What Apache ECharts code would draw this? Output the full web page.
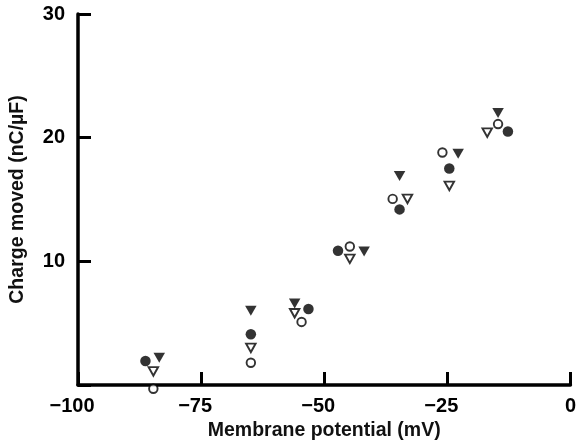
<!DOCTYPE html>
<html>
<head>
<meta charset="utf-8">
<script src="https://cdn.jsdelivr.net/npm/echarts@6/dist/echarts.min.js"></script>
<style>
html,body{margin:0;padding:0;background:#fff;}
#c{width:579px;height:448px;}
</style>
</head>
<body>
<div id="c"></div>
<script>
// Data: [membrane potential (mV), charge moved (nC/µF)]
const filledCircles = [[-86.3,1.94],[-64.9,4.1],[-53.2,6.15],[-47.2,10.85],[-34.7,14.2],[-24.6,17.5],[-12.7,20.5]];
const openCircles = [[-84.7,-0.3],[-64.9,1.8],[-54.6,5.1],[-44.8,11.2],[-36.1,15.05],[-26.0,18.8],[-14.7,21.1]];
const filledTriangles = [[-83.5,2.2],[-64.9,6.0],[-56.0,6.6],[-41.9,10.8],[-34.7,16.9],[-22.8,18.7],[-14.7,22.0]];
const openTriangles = [[-84.7,1.1],[-64.9,3.0],[-56.0,5.8],[-44.8,10.2],[-33.1,15.05],[-24.6,16.1],[-16.9,20.4]];
const xTicks = [-100,-75,-50,-25,0];
const yTicks = [10,20,30];
const xTitle = 'Membrane potential (mV)';
const yTitle = 'Charge moved (nC/µF)';

const FONT = 'Liberation Sans';
const chart = echarts.init(document.getElementById('c'), null, {renderer:'canvas'});
const axisCommon = {
  axisLine:{show:true,onZero:false,lineStyle:{color:'#000',width:3.5}},
  axisTick:{show:true,inside:true,length:13,lineStyle:{color:'#000',width:3}},
  splitLine:{show:false},
  nameTextStyle:{fontFamily:FONT,fontSize:19.5,fontWeight:'bold',color:'#111'}
};
chart.setOption({
  animation:false,
  backgroundColor:'#fff',
  grid:{left:76,right:6,top:14,bottom:63,containLabel:false},
  xAxis:Object.assign({},axisCommon,{
    type:'value',min:-100,max:0,interval:25,
    name:xTitle,nameLocation:'middle',nameGap:33,
    axisLabel:{margin:11,color:'#000',fontFamily:FONT,fontSize:20,fontWeight:'bold',
      formatter:function(v){ if(xTicks.indexOf(v)<0) return ''; return v<0 ? '{t|\u2212'+Math.abs(v)+'}{s| }' : '{t|'+v+'}'; },
      rich:{t:{fontFamily:FONT,fontSize:20,fontWeight:'bold',color:'#000'},s:{width:12,fontSize:20}}}
  }),
  yAxis:Object.assign({},axisCommon,{
    type:'value',min:0,max:30,interval:10,
    name:yTitle,nameLocation:'middle',nameGap:50,
    axisLabel:{margin:13,color:'#000',fontFamily:FONT,fontSize:20,fontWeight:'bold',
      formatter:function(v){ return yTicks.indexOf(v)<0 ? '' : String(v); }}
  }),
  series:[
    {type:'scatter',clip:false,data:filledCircles,symbol:'circle',symbolSize:10.5,
     itemStyle:{color:'#000'}},
    {type:'scatter',clip:false,data:openCircles,symbol:'circle',symbolSize:8.5,
     itemStyle:{color:'#fff',borderColor:'#000',borderWidth:1.9}},
    {type:'scatter',clip:false,data:filledTriangles,symbol:'triangle',symbolSize:[11.5,10],symbolRotate:180,
     itemStyle:{color:'#000'}},
    {type:'scatter',clip:false,data:openTriangles,symbol:'triangle',symbolSize:[9.5,8.5],symbolRotate:180,
     itemStyle:{color:'#fff',borderColor:'#000',borderWidth:1.9}}
  ]
});
</script>
</body>
</html>
